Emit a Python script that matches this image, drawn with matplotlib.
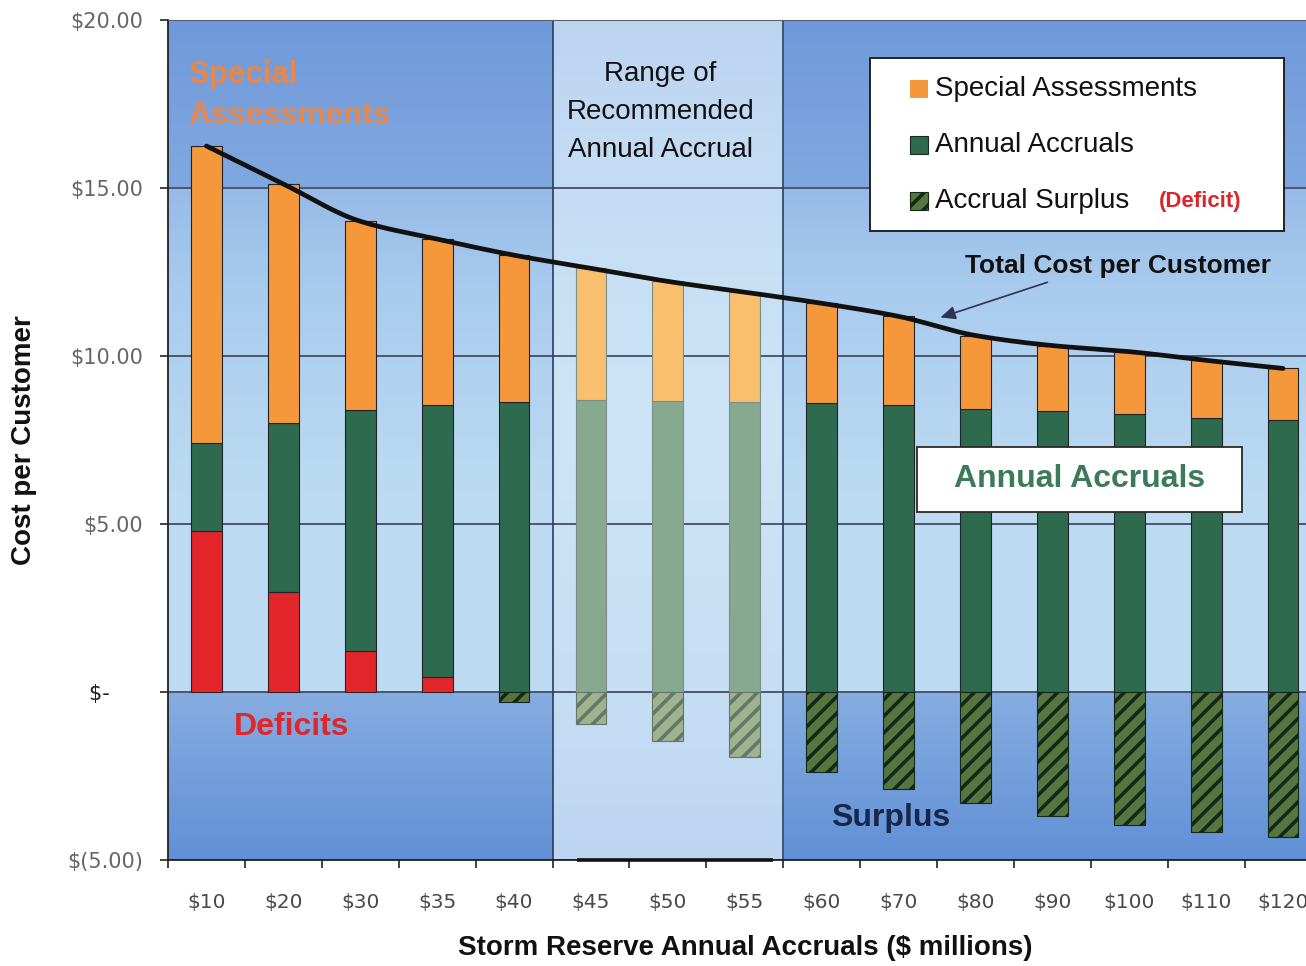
import numpy as np
import matplotlib
matplotlib.use("Agg")
import matplotlib.pyplot as plt
from matplotlib.patches import Rectangle
from matplotlib.colors import to_rgb

# ---- data -------------------------------------------------------------
categories = ["$10", "$20", "$30", "$35", "$40", "$45", "$50", "$55",
              "$60", "$70", "$80", "$90", "$100", "$110", "$120"]
total_cost = [16.25, 15.12, 14.01, 13.48, 13.00, 12.61, 12.22, 11.90,
              11.57, 11.18, 10.61, 10.31, 10.13, 9.87, 9.63]
accrual_level = [7.40, 8.00, 8.40, 8.55, 8.62, 8.70, 8.67, 8.64,
                 8.61, 8.55, 8.43, 8.37, 8.28, 8.16, 8.10]
deficit = [4.80, 2.97, 1.22, 0.46, 0, 0, 0, 0, 0, 0, 0, 0, 0, 0, 0]
surplus = [0, 0, 0, 0, -0.30, -0.95, -1.46, -1.93,
           -2.38, -2.89, -3.30, -3.69, -3.96, -4.17, -4.32]
recommended = ["$45", "$50", "$55"]
y_ticks = [-5, 0, 5, 10, 15, 20]
y_tick_labels = ["$(5.00)", "$-     ", "$5.00", "$10.00", "$15.00", "$20.00"]

# ---- style ------------------------------------------------------------
plt.rcParams["font.family"] = ["Liberation Sans", "DejaVu Sans"]
plt.rcParams["hatch.linewidth"] = 2.6

ORANGE, ORANGE_L = "#f5973b", "#f8bf6e"
GREEN, GREEN_L = "#2e6a4d", "#86a98f"
RED = "#e2262b"
HATCH_FACE, HATCH_FACE_L = "#56763f", "#9fb38f"
HATCH_EDGE, HATCH_EDGE_L = "#14281a", "#62786a"

W, H = 1306, 966
fig = plt.figure(figsize=(W / 100, H / 100), dpi=100)
ax = fig.add_axes([168 / W, 1 - 860 / H, 15 * 76.9 / W, 840 / H])

n = len(categories)
x = np.arange(n)


def vertical_gradient(stops, rows=1000):
    ys = np.linspace(-5, 20, rows)
    pos = [s[0] for s in stops]
    cols = np.array([to_rgb(s[1]) for s in stops])
    img = np.stack([np.interp(ys, pos, cols[:, k]) for k in range(3)], axis=-1)
    return img[:, None, :]


def smooth_curve(xs, ys, per_seg=30):
    """Monotone cubic (Fritsch-Carlson) curve through the given points."""
    xs = np.asarray(xs, float)
    ys = np.asarray(ys, float)
    h = np.diff(xs)
    d = np.diff(ys) / h
    m = np.zeros_like(ys)
    m[0], m[-1] = d[0], d[-1]
    for i in range(1, len(ys) - 1):
        if d[i - 1] * d[i] > 0:
            w1 = 2 * h[i] + h[i - 1]
            w2 = h[i] + 2 * h[i - 1]
            m[i] = (w1 + w2) / (w1 / d[i - 1] + w2 / d[i])
    px, py = [], []
    for i in range(len(xs) - 1):
        t = np.linspace(0, 1, per_seg, endpoint=False)
        h00 = 2 * t**3 - 3 * t**2 + 1
        h10 = t**3 - 2 * t**2 + t
        h01 = -2 * t**3 + 3 * t**2
        h11 = t**3 - t**2
        px.append(xs[i] + t * h[i])
        py.append(h00 * ys[i] + h10 * h[i] * m[i] + h01 * ys[i + 1] + h11 * h[i] * m[i + 1])
    px.append([xs[-1]])
    py.append([ys[-1]])
    return np.concatenate(px), np.concatenate(py)


# plot-area background
bg = vertical_gradient([(-5, "#6190d6"), (-0.03, "#86ade1"), (0.03, "#bddcf2"),
                        (6, "#bcdbf2"), (12, "#a9cbee"), (14.95, "#97bbe8"),
                        (15.05, "#80a8e0"), (20, "#7099da")])
ax.imshow(bg, extent=[-0.5, n - 0.5, -5, 20], origin="lower", aspect="auto",
          zorder=0, interpolation="bilinear")

# highlighted range of recommended accruals
rec_idx = [categories.index(c) for c in recommended]
lo, hi = min(rec_idx) - 0.5, max(rec_idx) + 0.5
panel = vertical_gradient([(-5, "#bdd5f1"), (0, "#c6def4"), (8, "#cde5f6"),
                           (15, "#c5ddf4"), (20, "#bcd4f0")])
ax.imshow(panel, extent=[lo, hi, -5, 20], origin="lower", aspect="auto",
          zorder=0.2, interpolation="bilinear")
ax.add_patch(Rectangle((lo, -5), hi - lo, 25, fill=False, edgecolor="#2c3b5c",
                       lw=1.2, zorder=1.5))
ax.plot([lo + 0.32, hi - 0.13], [-5, -5], color="#111111", lw=2.6,
        zorder=5, clip_on=False, solid_capstyle="butt")
ax.set_xlim(-0.5, n - 0.5)
ax.set_ylim(-5, 20)

# grid
ax.set_axisbelow(True)
ax.set_yticks(y_ticks)
ax.set_yticklabels(y_tick_labels)
ax.yaxis.grid(True, color="#4b5670", lw=1.4)
for gl in ax.get_ygridlines():
    gl.set_zorder(1)

# ---- bars -------------------------------------------------------------
tot = np.array(total_cost)
acc = np.array(accrual_level)
dfc = np.array(deficit)
sur = np.array(surplus)
hl = np.array([c in recommended for c in categories])
bw = 0.4

orange_c = [ORANGE_L if h else ORANGE for h in hl]
green_c = [GREEN_L if h else GREEN for h in hl]
edge_c = ["#7b8f88" if h else "#202428" for h in hl]

m = dfc > 0
ax.bar(x[m], dfc[m], bw, color=RED, edgecolor="#3a1c1c", lw=0.8, zorder=2)
ax.bar(x, acc - dfc, bw, bottom=dfc, color=green_c, edgecolor=edge_c, lw=0.8, zorder=2)
ax.bar(x, tot - acc, bw, bottom=acc, color=orange_c, edgecolor=edge_c, lw=0.8, zorder=2)
s = sur < 0
ax.bar(x[s], sur[s], bw,
       color=[HATCH_FACE_L if h else HATCH_FACE for h in hl[s]],
       edgecolor=[HATCH_EDGE_L if h else HATCH_EDGE for h in hl[s]],
       hatch="//", lw=0.8, zorder=2)

# total cost curve, smoothed through the bar tops
cx, cy = smooth_curve(x, tot)
ax.plot(cx, cy, color="#111111", lw=3.4, zorder=3, solid_capstyle="round",
        solid_joinstyle="round")

# ---- axes cosmetics ---------------------------------------------------
ax.set_xticks(np.arange(-0.5, n, 1))
ax.set_xticklabels([])
ax.set_xticks(x, minor=True)
ax.set_xticklabels(categories, minor=True, fontsize=14.5, color="#4a4a4a",
                   family="DejaVu Sans")
ax.tick_params(axis="x", which="major", direction="out", length=6, width=1.2,
               color="#222222")
ax.tick_params(axis="x", which="minor", length=0, pad=24)
ax.tick_params(axis="y", direction="out", length=6, width=1.2, color="#222222",
               pad=12, labelsize=15, labelcolor="#666666")
for lab in ax.get_yticklabels():
    lab.set_family("DejaVu Sans")
ax.get_yticklabels()[1].set_color("#222222")

for side in ("left", "bottom"):
    ax.spines[side].set_color("#222222")
    ax.spines[side].set_linewidth(1.3)
ax.spines["top"].set_color("#5a6070")
ax.spines["right"].set_visible(False)

ax.set_xlabel("Storm Reserve Annual Accruals ($ millions)", fontsize=20,
              fontweight="bold", color="#111111", labelpad=16)
ax.set_ylabel("Cost per Customer", fontsize=20, fontweight="bold",
              color="#111111", labelpad=22)

# ---- annotations ------------------------------------------------------
ax.text(-0.24, 17.75, "Special\nAssessments", fontsize=22.5, fontweight="bold",
        color="#e8874a", ha="left", va="center", linespacing=1.5, zorder=4)
ax.text(1.11, -1.03, "Deficits", fontsize=23, fontweight="bold", color="#e0262b",
        ha="center", va="center", zorder=4)
ax.text(8.9, -3.75, "Surplus", fontsize=23, fontweight="bold", color="#17264a",
        ha="center", va="center", zorder=4)
ax.text(5.9, 17.25, "Range of\nRecommended\nAnnual Accrual", fontsize=20,
        color="#111111", ha="center", va="center", linespacing=1.6, zorder=4)

ax.add_patch(Rectangle((9.24, 5.36), 4.23, 1.94, facecolor="white",
                       edgecolor="#2a2a2a", lw=1.3, zorder=4))
ax.text(11.355, 6.33, "Annual Accruals", fontsize=23, fontweight="bold",
        color="#3d7a5a", ha="center", va="center", zorder=5)

ax.text(11.85, 12.67, "Total Cost per Customer", fontsize=19, fontweight="bold",
        color="#111111", ha="center", va="center", zorder=4)
ax.annotate("", xy=(9.51, 11.12), xytext=(10.97, 12.22),
            arrowprops=dict(arrowstyle="-|>,head_length=0.9,head_width=0.4",
                            color="#2b3550", lw=1.2), zorder=4)

# ---- legend -----------------------------------------------------------
def fx(px):
    return px / W


def fy(py):
    return 1 - py / H


fig.add_artist(Rectangle((fx(870), fy(231)), fx(414), 173 / H,
                         transform=fig.transFigure, facecolor="white",
                         edgecolor="#222222", lw=1.4, zorder=10))
legend_rows = [("Special Assessments", dict(facecolor=ORANGE, edgecolor="none")),
               ("Annual Accruals", dict(facecolor=GREEN, edgecolor="#1c2a22")),
               ("Accrual Surplus", dict(facecolor=HATCH_FACE, edgecolor=HATCH_EDGE,
                                        hatch="//"))]
for i, (label, style) in enumerate(legend_rows):
    cy_row = 89 + 56 * i
    fig.add_artist(Rectangle((fx(910), fy(cy_row + 9)), fx(18), 18 / H,
                             transform=fig.transFigure, lw=0.8, zorder=11, **style))
    fig.text(fx(935), fy(cy_row), label, fontsize=20, color="#111111",
             ha="left", va="center", zorder=12)
fig.text(fx(1200), fy(201), "(Deficit)", fontsize=16, fontweight="bold",
         color="#d9262b", ha="center", va="center", zorder=12)

fig.savefig("out.png", dpi=100, facecolor="white")
